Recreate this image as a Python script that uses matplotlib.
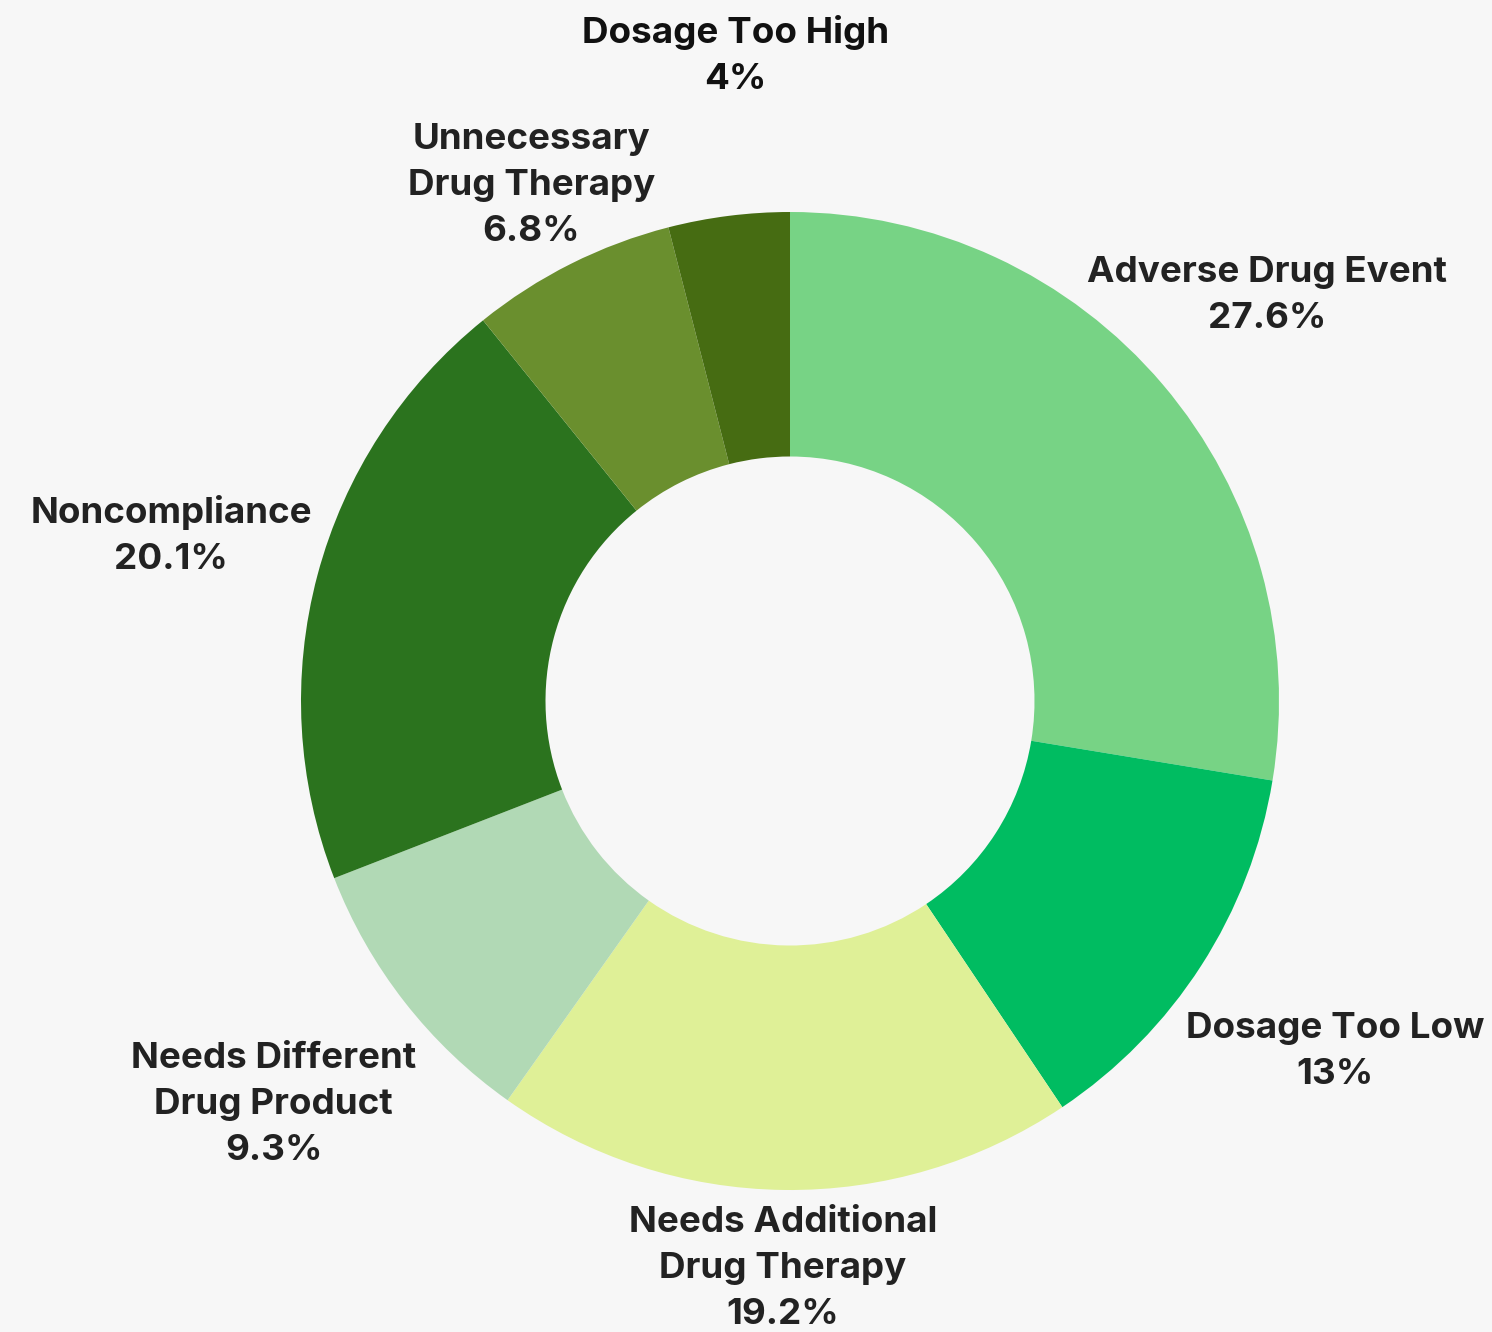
import numpy as np
import matplotlib.pyplot as plt

# data
categories = ["Adverse Drug Event", "Dosage Too Low", "Needs Additional\nDrug Therapy",
              "Needs Different\nDrug Product", "Noncompliance", "Unnecessary\nDrug Therapy",
              "Dosage Too High"]
values = [27.6, 13, 19.2, 9.3, 20.1, 6.8, 4]
pct_labels = ["27.6%", "13%", "19.2%", "9.3%", "20.1%", "6.8%", "4%"]

colors = ["#77D385", "#00BC61", "#DFF097", "#B1D9B5", "#2B731E", "#6A8F2E", "#466C12"]
label_r = [1.28, 1.325, 1.16, 1.34, 1.31, 1.18, 1.325]
angle_nudge = [0, 0, 0, 0, 0, 0, -2.4]
text_colors = ["#222222"] * 6 + ["#111111"]

bg = "#F7F7F7"
fig = plt.figure(figsize=(14.92, 13.32), dpi=100, facecolor=bg)
ax = fig.add_axes([0, 0, 1, 1])
ax.set_facecolor(bg)

wedges, _ = ax.pie(values, colors=colors, startangle=90, counterclock=False,
                   radius=1.0, wedgeprops=dict(width=0.5, linewidth=0))

total = sum(values)
cum = 0
for i, v in enumerate(values):
    mid = 90 - (cum + v / 2) / total * 360 + angle_nudge[i]
    cum += v
    r = label_r[i]
    x = r * np.cos(np.radians(mid))
    y = r * np.sin(np.radians(mid))
    ax.text(x, y, categories[i] + "\n" + pct_labels[i], ha="center", va="center",
            fontsize=26.5, fontweight="bold", family=["Inter", "DejaVu Sans"],
            color=text_colors[i], linespacing=1.5)

# center (790, 701) px, R = 489 px
W, H = 1492, 1332
R = 489
cx, cy = 790, 701
ax.set_xlim(-cx / R, (W - cx) / R)
ax.set_ylim(-(H - cy) / R, cy / R)
ax.set_aspect("auto")
ax.axis("off")

fig.savefig("out.png", dpi=100, facecolor=bg)
